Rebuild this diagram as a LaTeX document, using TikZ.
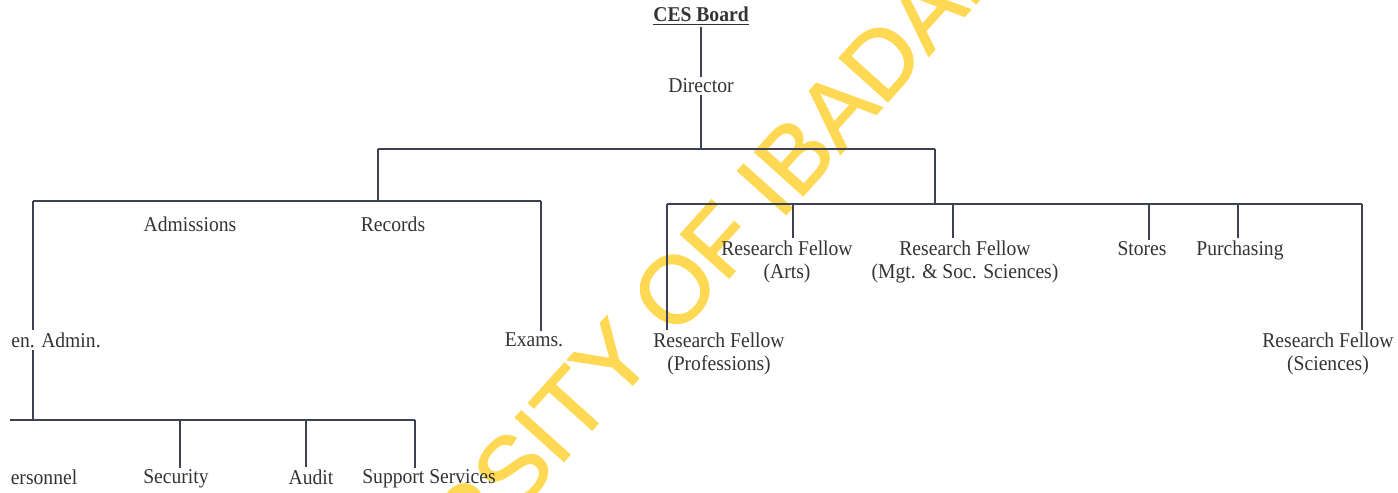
\documentclass[tikz,border=0pt]{standalone}
\usepackage{fontspec}
\setmainfont{Liberation Serif}[FakeStretch=0.93]
\newfontfamily\wmfont{Liberation Sans}[FakeBold=1.5]
\definecolor{wmyellow}{RGB}{255,216,84}
\definecolor{inkline}{RGB}{62,64,84}
\tikzset{
  lbl/.style={font=\fontsize{12}{13.5}\selectfont, text=black!80, inner sep=1pt, align=center},
  org/.style={draw=inkline, line width=0.6pt},
  trunk/.style={draw=inkline, line width=1.1pt}
}
\begin{document}
\begin{tikzpicture}[x=0.02cm,y=-0.02cm]
\useasboundingbox (0,0) rectangle (1398,493);
\clip (0,0) rectangle (1398,493);
\node[rotate=48, text=wmyellow, inner sep=0pt, font=\wmfont\fontsize{54}{54}\selectfont] (wm) at (622,348) {UNIVERSITY OF IBADAN};

\node[lbl] (board) at (701,16) {\textbf{\underline{CES Board}}};
\node[lbl] (dir) at (701,86) {Director};
\coordinate (top) at (701,149);
\coordinate (topL) at (378,149);
\coordinate (topR) at (935,149);
\draw[trunk] (board) -- (dir);
\draw[trunk] (dir) -- (top);
\draw[org] (topL) -- (topR);

\coordinate (lb) at (378,201);
\coordinate (lbL) at (33,201);
\coordinate (lbR) at (541,201);
\draw[org] (topL) -- (lb);
\draw[org] (lbL) -- (lbR);
\node[lbl] (adm) at (190,224) {Admissions};
\node[lbl] (rec) at (393,224) {Records};
\node[lbl] (gen) at (56,340) {en. Admin.};
\node[lbl] (exam) at (534,340) {Exams.};
\draw[org] (lbL) -- (lbL |- gen.north);
\draw[org] (lbR) -- (lbR |- exam.north);

\coordinate (bb) at (33,420);
\coordinate (bbL) at (10,420);
\coordinate (bbR) at (415,420);
\draw[org] (lbL |- gen.south) -- (bb);
\draw[org] (bbL) -- (bbR);
\node[lbl] (pers) at (44,477) {ersonnel};
\foreach \x/\c/\y/\n/\t in {180/176/479/sec/Security,306/311/477/aud/Audit,415/429/479/sup/Support Services}{
    \node[lbl] (\n) at (\c,\y) {\t};
    \coordinate (j\n) at (\x,420);
    \draw[org] (j\n) -- (j\n |- \n.north);
}

\coordinate (rb) at (935,204);
\coordinate (rbL) at (667,204);
\coordinate (rbR) at (1362,204);
\draw[org] (topR) -- (rb);
\draw[org] (rbL) -- (rbR);
\foreach \x/\c/\y/\n/\t in {667/719/354/prof/Research Fellow\\(Professions),
    793/787/262/arts/Research Fellow\\(Arts),
    953/965/262/mgt/Research Fellow\\(Mgt. \& Soc. Sciences),
    1149/1142/249/sto/Stores,
    1238/1240/250/pur/Purchasing,
    1362/1328/354/sci/Research Fellow\\(Sciences)}{
    \node[lbl] (\n) at (\c,\y) {\t};
    \coordinate (j\n) at (\x,204);
    \draw[org] (j\n) -- (j\n |- \n.north);
}
\end{tikzpicture}
\end{document}
